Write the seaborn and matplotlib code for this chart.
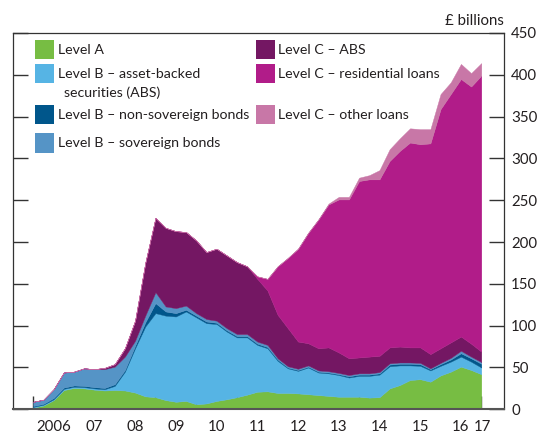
import numpy as np
import pandas as pd
import matplotlib
matplotlib.use("Agg")
import matplotlib.pyplot as plt
from matplotlib.patches import Rectangle
import seaborn as sns

# ---------------- data (£ billions, quarterly) ----------------
quarters = pd.period_range("2006Q1", "2017Q1", freq="Q")

level_a = [2, 4.5, 11, 23, 25.5, 25, 23.5, 22.5, 23, 22.5, 20, 15.5, 14.5, 11, 9,
           10, 6, 7, 10, 12, 14.5, 17.5, 21, 21.5, 19.5, 19.5, 19, 18, 17, 16,
           15, 15, 15, 14, 14.5, 25, 29, 35, 36, 33, 40.5, 45, 51, 47, 42]
level_b_abs = [1, 1, 1, 1.5, 1.5, 1.5, 1.5, 1.5, 5, 22.5, 53, 83.5, 100.5, 101, 102,
               107, 104, 96, 92, 81, 71.5, 68.5, 56, 51.5, 38.5, 29.5, 27, 32, 27, 27,
               26, 23, 25, 26, 27, 26.5, 23.5, 17.5, 16, 13.5, 11.5, 12, 12, 10, 8]
level_b_nonsov = [1, 1, 1.5, 1.5, 1.5, 1.5, 1.5, 1.5, 2, 2, 3, 5, 12, 5, 4,
                  2, 2, 2, 1.5, 1.5, 1.5, 1.5, 1.5, 1.5, 1.5, 1, 1, 1, 1, 1,
                  1, 1.5, 1.5, 1.5, 1.5, 2, 2, 2, 2, 1.5, 2, 2.5, 4, 4, 4.5]
level_b_sov = [5, 5, 10.5, 18, 16.5, 21, 21.5, 22.5, 21, 16, 6, 8, 13, 6, 6,
               5, 3, 3, 2.5, 2.5, 2.5, 2.5, 2.5, 2.5, 1.5, 1.5, 1.5, 1.5, 1.5, 1.5,
               1.5, 1.5, 1.5, 1.5, 1.5, 1.5, 1.5, 1.5, 1.5, 1, 1.5, 2, 3, 2, 2]
level_c_abs = [0, 0, 0, 0, 0, 0, 0, 1.5, 3, 10, 24, 63, 89, 94, 92,
               88, 87, 80, 86, 87, 86, 81, 75, 65, 52, 45.5, 32.5, 26.5, 26.5, 28.5,
               24.5, 20, 19, 20, 19.5, 19, 19, 18, 18.5, 17, 17.5, 18.5, 17, 15.5, 12.5]
level_c_resi = [0, 0, 0, 0, 0, 0, 0, 0, 0, 0, 0, 0, 0, 0, 0,
                0, 0, 0, 0, 0, 0, 0, 3, 14, 58, 84, 111, 132, 154, 171,
                183, 190, 211, 212, 211, 223, 234, 245, 243, 252, 286, 297, 308, 307.5, 330]
level_c_other = [0, 0, 0, 0, 0, 0, 0, 0, 0, 0, 0, 0, 0, 0, 0,
                 0, 0, 0, 0, 0, 0, 0, 0, 0, 0, 0, 0, 0, 0, 1,
                 3, 3, 4, 5, 11, 14, 15, 17, 18, 17, 18, 14, 18, 16, 15]

series_names = ["Level A", "Level B – asset-backed securities (ABS)",
                "Level B – non-sovereign bonds", "Level B – sovereign bonds",
                "Level C – ABS", "Level C – residential loans", "Level C – other loans"]
colors = ["#77BD43", "#56B4E4", "#00568B", "#5594C6", "#741763", "#B11C89", "#C877A7"]

year_ticks = list(range(2006, 2018))
year_labels = ["2006", "07", "08", "09", "10", "11", "12", "13", "14", "15", "16", "17"]
y_ticks = [0, 50, 100, 150, 200, 250, 300, 350, 400, 450]

# ---------------- figure ----------------
sns.set_theme(style="white")
plt.rcParams["font.family"] = ["Lato", "DejaVu Sans"]
TXT = "#231f20"
FS = 10.8
FS_LEG = 10.2

W, H = 541, 433
fig = plt.figure(figsize=(W / 100, H / 100), dpi=100)
L, R, T, B = 12.5, 504.3, 33.0, 409.3
ax = fig.add_axes([L / W, 1 - B / H, (R - L) / W, (B - T) / H])

df = pd.DataFrame({n: v for n, v in zip(series_names, [level_a, level_b_abs, level_b_nonsov,
                                                         level_b_sov, level_c_abs, level_c_resi,
                                                         level_c_other])})
df["x"] = quarters.year + (quarters.quarter - 1) / 4.0

ax.stackplot(df["x"], *[df[n] for n in series_names], colors=colors,
             edgecolor="face", linewidth=0.3)

ax.set_xlim(2005.49, 2017.565)
ax.set_ylim(0, 450)

ax.set_xticks(year_ticks)
ax.set_xticklabels([])
label_pos = [y + 0.5 for y in year_ticks[:-1]] + [year_ticks[-1] + 0.03]
ax.set_xticks(label_pos, minor=True)
ax.set_xticklabels(year_labels, minor=True)
ax.tick_params(axis="x", which="major", direction="in", length=9.5, width=1.0,
               color="#333333", bottom=True, top=False, labelbottom=False)
ax.tick_params(axis="x", which="minor", length=0, pad=8, labelsize=FS,
               labelcolor=TXT, bottom=True)

ax.set_yticks(y_ticks)
ax.tick_params(axis="y", direction="in", length=10.5, width=1.0, color="#333333",
               left=True, right=True, labelleft=False, labelright=True,
               labelsize=FS, labelcolor=TXT, pad=5)

for s in ax.spines.values():
    s.set_color("#333333")
    s.set_linewidth(0.9)
ax.spines["bottom"].set_linewidth(1.5)
ax.spines["bottom"].set_color("#555555")
ax.grid(False)
ax.set_xlabel("")
ax.set_ylabel("")

fig.text(R / W, 1 - 20.7 / H, "£ billions", ha="right", va="center",
         fontsize=FS, color=TXT)

# ---------------- legend (two columns) ----------------
def legend_item(x0, ytop, color, text, extra=None):
    sq = 19.0
    fig.add_artist(Rectangle((x0 / W, 1 - (ytop + sq) / H), sq / W, sq / H,
                             transform=fig.transFigure, facecolor=color,
                             edgecolor="none"))
    fig.text((x0 + sq + 3.5) / W, 1 - (ytop + sq / 2 + 0.3) / H, text,
             ha="left", va="center", fontsize=FS_LEG, color=TXT)
    if extra:
        fig.text((x0 + sq + 10) / W, 1 - (ytop + sq / 2 + 19.5) / H, extra,
                 ha="left", va="center", fontsize=FS_LEG, color=TXT)

c1, c2 = 35.0, 256.0
legend_item(c1, 40.0, colors[0], "Level A")
legend_item(c1, 64.0, colors[1], "Level B – asset-backed", "securities (ABS)")
legend_item(c1, 105.0, colors[2], "Level B – non-sovereign bonds")
legend_item(c1, 133.5, colors[3], "Level B – sovereign bonds")
legend_item(c2, 40.0, colors[4], "Level C – ABS")
legend_item(c2, 64.0, colors[5], "Level C – residential loans")
legend_item(c2, 105.0, colors[6], "Level C – other loans")

fig.savefig("out.png", dpi=100)
